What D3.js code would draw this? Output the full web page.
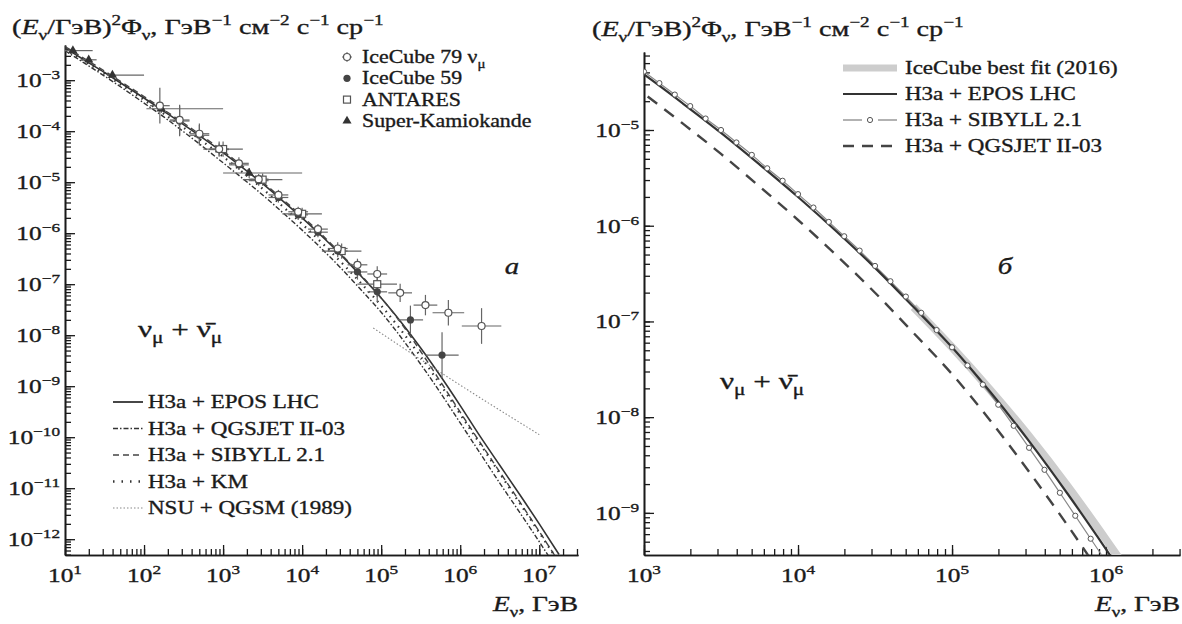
<!DOCTYPE html>
<html lang="ru">
<head>
<meta charset="UTF-8">
<title>Atmospheric neutrino flux</title>
<script src="https://d3js.org/d3.v7.min.js"></script>
<style>
  body { margin: 0; background: #fff; }
  svg { display: block; font-family: "Liberation Serif", "Times New Roman", serif; }
  svg text { stroke: #1a1a1a; stroke-width: 0.35px; }
</style>
</head>
<body>
<svg id="chart" width="1182" height="624"></svg>
<script>
// all values are exponents: log10(E / GeV) and log10(E^2 Phi)
const gridE = [1, 1.25, 1.5, 1.75, 2, 2.25, 2.5, 2.75, 3, 3.25, 3.5, 3.75, 4, 4.25, 4.5, 4.75, 5, 5.25, 5.5, 5.75, 6, 6.25, 6.5, 6.75, 7, 7.25];
const eposF = [-2.37, -2.61, -2.85, -3.10, -3.35, -3.61, -3.87, -4.14, -4.42, -4.72, -5.03, -5.36, -5.70, -6.06, -6.44, -6.85, -7.27, -7.74, -8.25, -8.80, -9.38, -9.98, -10.55, -11.12, -11.70, -12.30];
const qgsjetF = [-2.42, -2.67, -2.92, -3.18, -3.45, -3.72, -4.01, -4.31, -4.62, -4.93, -5.25, -5.59, -5.94, -6.31, -6.70, -7.12, -7.55, -8.04, -8.57, -9.13, -9.72, -10.31, -10.90, -11.47, -12.05, -12.65];
const sibyllF = [-2.34, -2.58, -2.82, -3.07, -3.32, -3.58, -3.84, -4.11, -4.39, -4.69, -5.00, -5.33, -5.67, -6.03, -6.42, -6.83, -7.27, -7.76, -8.32, -8.91, -9.51, -10.10, -10.68, -11.26, -11.85, -12.45];
const kmF = [-2.39, -2.63, -2.88, -3.13, -3.39, -3.66, -3.93, -4.21, -4.50, -4.81, -5.13, -5.47, -5.82, -6.19, -6.58, -6.99, -7.42, -7.90, -8.42, -8.97, -9.55, -10.13, -10.71, -11.29, -11.87, -12.46];
const nsuE = [4.9, 5.9, 7.0];
const nsuF = [-7.86, -8.88, -9.95];

// panel b: SIBYLL with markers, IceCube fit band
const sibMarkE = [3.0, 3.1, 3.2, 3.3, 3.4, 3.5, 3.6, 3.7, 3.8, 3.9, 4.0, 4.1, 4.2, 4.3, 4.4, 4.5, 4.6, 4.7, 4.8, 4.9, 5.0, 5.1, 5.2, 5.3, 5.4, 5.5, 5.6, 5.7, 5.8, 5.9, 6.0];
const sibMarkF = [-4.39, -4.51, -4.63, -4.75, -4.88, -5.00, -5.13, -5.26, -5.40, -5.53, -5.67, -5.81, -5.96, -6.11, -6.26, -6.42, -6.58, -6.74, -6.91, -7.09, -7.27, -7.46, -7.66, -7.87, -8.09, -8.32, -8.55, -8.79, -9.03, -9.27, -9.51];
const fitE = [4.75, 5.0, 5.25, 5.5, 5.75, 6.0, 6.25];
const fitF = [-6.85, -7.27, -7.72, -8.20, -8.72, -9.28, -9.86];

// measurements (panel a)
const ic79E = [2.2, 2.45, 2.7, 2.95, 3.2, 3.45, 3.7, 3.95, 4.2, 4.45, 4.7, 4.95, 5.24, 5.56, 5.85, 6.27];
const ic79F = [-3.50, -3.78, -4.05, -4.35, -4.63, -4.94, -5.25, -5.58, -5.92, -6.30, -6.62, -6.80, -7.17, -7.41, -7.56, -7.82];
const ic79Err = [0.35, 0.3, 0.2, 0.15, 0.12, 0.1, 0.1, 0.1, 0.1, 0.12, 0.12, 0.15, 0.18, 0.2, 0.25, 0.35];
const ic79Bin = [0.125, 0.125, 0.125, 0.125, 0.125, 0.125, 0.125, 0.125, 0.125, 0.125, 0.125, 0.125, 0.15, 0.15, 0.2, 0.25];
const ic59E = [2.45, 2.7, 2.95, 3.2, 3.45, 3.7, 3.95, 4.2, 4.45, 4.7, 4.95, 5.37, 5.77];
const ic59F = [-3.80, -4.08, -4.36, -4.66, -4.97, -5.30, -5.64, -5.98, -6.35, -6.76, -7.15, -7.70, -8.39];
const ic59Err = [0.3, 0.2, 0.12, 0.1, 0.1, 0.1, 0.1, 0.1, 0.12, 0.15, 0.2, 0.28, 0.45];
const ic59Bin = [0.125, 0.125, 0.125, 0.125, 0.125, 0.125, 0.125, 0.125, 0.125, 0.125, 0.125, 0.16, 0.21];
const antE = [3.0, 3.5, 4.0, 4.5, 4.95];
const antF = [-4.35, -4.95, -5.62, -6.35, -7.0];
const antErr = [0.15, 0.12, 0.12, 0.15, 0.25];
const skE = [1.1, 1.3, 1.6, 2.22, 3.33];
const skF = [-2.42, -2.60, -2.90, -3.56, -4.82];
const skElo = [1.0, 1.2, 1.53, 2.03, 3.0];
const skEhi = [1.35, 1.4, 2.0, 3.0, 4.0];
const skErr = [0.04, 0.05, 0.06, 0.08, 0.1];

const legendA1 = ["IceCube 79 ν", "IceCube 59", "ANTARES", "Super-Kamiokande"];
const legendA2 = ["H3a + EPOS LHC", "H3a + QGSJET II-03", "H3a + SIBYLL 2.1", "H3a + KM", "NSU + QGSM (1989)"];
const legendB = ["IceCube best fit (2016)", "H3a + EPOS LHC", "H3a + SIBYLL 2.1", "H3a + QGSJET II-03"];

const svg = d3.select("#chart");
const INK = "#1a1a1a";

// text with sub/superscripts, stretched horizontally like the scan
function rich(g, x, y, parts, size, anchor, sx) {
    const t = g.append("text")
        .attr("transform", `translate(${x},${y}) scale(${sx},1)`)
        .attr("font-size", size)
        .attr("text-anchor", anchor || "start")
        .attr("fill", INK);
    let shift = 0;
    parts.forEach(p => {
        const s = p.sup ? -0.42 * size : p.sub ? 0.26 * size : 0;
        const ts = t.append("tspan").attr("dy", s - shift).text(p.t);
        if (p.sup || p.sub) ts.attr("font-size", size * 0.68);
        if (p.it) ts.attr("font-style", "italic");
        shift = s;
    });
    return t;
}

const titleParts = [
    {t: "("}, {t: "E", it: true}, {t: "ν", sub: true}, {t: "/ГэВ)"}, {t: "2", sup: true},
    {t: "Φ"}, {t: "ν", sub: true}, {t: ", ГэВ"}, {t: "−1", sup: true}, {t: " см"}, {t: "−2", sup: true},
    {t: " с"}, {t: "−1", sup: true}, {t: " ср"}, {t: "−1", sup: true}
];
const axisParts = [{t: "E", it: true}, {t: "ν", sub: true}, {t: ", ГэВ"}];
const nuParts = [{t: "ν"}, {t: "μ", sub: true}, {t: " + "}, {t: "ν\u0304"}, {t: "μ", sub: true}];

function panel(cfg) {
    const g = svg.append("g");
    const x = d3.scaleLog().domain([10 ** cfg.eMin, 10 ** cfg.eMax]).range([cfg.left, cfg.right]);
    const y = d3.scaleLog().domain([10 ** cfg.fMin, 10 ** cfg.fMax]).range([cfg.bottom, cfg.top]);

    const minor = (lo, hi) => d3.range(Math.floor(lo), Math.ceil(hi))
        .flatMap(k => d3.range(1, 10).map(m => m * 10 ** k))
        .filter(v => v >= 10 ** lo * 0.999 && v <= 10 ** hi * 1.001);
    const major = (lo, hi) => d3.range(Math.ceil(lo - 1e-9), Math.floor(hi + 1e-9) + 1);

    const styleAxis = sel => {
        sel.selectAll("line").attr("stroke", INK).attr("stroke-width", 1.3);
        sel.select(".domain").attr("stroke", INK).attr("stroke-width", 1.6);
    };
    g.append("g").attr("transform", `translate(0,${cfg.bottom})`)
        .call(d3.axisBottom(x).tickValues(minor(cfg.eMin, cfg.eMax)).tickSize(-6).tickSizeOuter(0).tickFormat(""))
        .call(styleAxis);
    g.append("g").attr("transform", `translate(0,${cfg.bottom})`)
        .call(d3.axisBottom(x).tickValues(major(cfg.eMin, cfg.eMax).map(k => 10 ** k)).tickSize(-10).tickSizeOuter(0).tickFormat(""))
        .call(styleAxis);
    g.append("g").attr("transform", `translate(${cfg.left},0)`)
        .call(d3.axisLeft(y).tickValues(minor(cfg.fMin, cfg.fMax)).tickSize(-6).tickSizeOuter(0).tickFormat(""))
        .call(styleAxis);
    g.append("g").attr("transform", `translate(${cfg.left},0)`)
        .call(d3.axisLeft(y).tickValues(major(cfg.fMin, cfg.fMax).map(k => 10 ** k)).tickSize(-10).tickSizeOuter(0).tickFormat(""))
        .call(styleAxis);

    major(cfg.eMin, cfg.eMax).forEach(k => {
        rich(g, x(10 ** k), 582, [{t: "10"}, {t: String(k), sup: true}], 19.5, "middle", 1.3);
    });
    major(cfg.fMin, cfg.fMax).forEach(k => {
        rich(g, cfg.left - 5, y(10 ** k) + 7, [{t: "10"}, {t: "−" + (-k), sup: true}], 19.5, "end", 1.3);
    });

    rich(g, cfg.titleX, cfg.titleY, titleParts, 22, "start", 1.28);
    rich(g, cfg.right, 611, axisParts, 22, "end", 1.25);

    const clipId = "clip" + cfg.id;
    svg.append("clipPath").attr("id", clipId).append("rect")
        .attr("x", cfg.left).attr("y", cfg.top)
        .attr("width", cfg.right - cfg.left).attr("height", cfg.bottom - cfg.top);
    const plot = g.append("g").attr("clip-path", `url(#${clipId})`);
    const line = d3.line().x(d => x(10 ** d[0])).y(d => y(10 ** d[1])).curve(d3.curveMonotoneX);
    return {g, plot, x, y, line};
}

// ---------- panel a ----------
const A = panel({id: "a", left: 65, right: 578, top: 45, bottom: 555,
    eMin: 1, eMax: 7.49, fMin: -12.31, fMax: -2.31, titleX: 12, titleY: 34});

const curveA = [
    {f: eposF, dash: null, w: 1.6, c: "#333"},
    {f: qgsjetF, dash: "5,2,1.5,2", w: 1.4, c: "#333"},
    {f: sibyllF, dash: "6,4", w: 1.4, c: "#444"},
    {f: kmF, dash: "1.5,5", w: 2.2, c: "#333"}
];
curveA.forEach(cv => {
    A.plot.append("path").datum(gridE.map((e, i) => [e, cv.f[i]]))
        .attr("d", A.line).attr("fill", "none").attr("stroke", cv.c)
        .attr("stroke-width", cv.w).attr("stroke-dasharray", cv.dash);
});
A.plot.append("path").datum(nsuE.map((e, i) => [e, nsuF[i]]))
    .attr("d", A.line).attr("fill", "none").attr("stroke", "#888")
    .attr("stroke-width", 1.1).attr("stroke-dasharray", "1.5,2");

function errBars(E, F, lo, hi, up, dn) {
    const gg = A.plot.append("g").attr("stroke", "#666").attr("stroke-width", 1.2);
    E.forEach((e, i) => {
        gg.append("line").attr("x1", A.x(10 ** lo[i])).attr("x2", A.x(10 ** hi[i]))
            .attr("y1", A.y(10 ** F[i])).attr("y2", A.y(10 ** F[i]));
        gg.append("line").attr("x1", A.x(10 ** e)).attr("x2", A.x(10 ** e))
            .attr("y1", A.y(10 ** (F[i] - dn[i]))).attr("y2", A.y(10 ** (F[i] + up[i])));
    });
}
errBars(skE, skF, skElo, skEhi, skErr, skErr);
errBars(antE, antF, antE.map(e => e - 0.25), antE.map(e => e + 0.25), antErr, antErr);
errBars(ic59E, ic59F, ic59E.map((e, i) => e - ic59Bin[i]), ic59E.map((e, i) => e + ic59Bin[i]), ic59Err, ic59Err);
errBars(ic79E, ic79F, ic79E.map((e, i) => e - ic79Bin[i]), ic79E.map((e, i) => e + ic79Bin[i]), ic79Err, ic79Err);

const sym = {
    ic79: (sel) => sel.append("circle").attr("r", 3.5).attr("fill", "#fff").attr("stroke", "#555").attr("stroke-width", 1.2),
    ic59: (sel) => sel.append("circle").attr("r", 3.6).attr("fill", "#444"),
    ant: (sel) => sel.append("rect").attr("x", -3.5).attr("y", -3.5).attr("width", 7).attr("height", 7)
        .attr("fill", "#fff").attr("stroke", "#555").attr("stroke-width", 1.2),
    sk: (sel) => sel.append("path").attr("d", d3.symbol(d3.symbolTriangle, 36)()).attr("fill", "#333")
};
function markers(E, F, kind) {
    E.forEach((e, i) => {
        A.plot.append("g").attr("transform", `translate(${A.x(10 ** e)},${A.y(10 ** F[i])})`).call(sym[kind]);
    });
}
markers(skE, skF, "sk");
markers(antE, antF, "ant");
markers(ic59E, ic59F, "ic59");
markers(ic79E, ic79F, "ic79");

// data legend
const kinds = ["ic79", "ic59", "ant", "sk"];
legendA1.forEach((s, i) => {
    const yy = 63 + i * 21.3;
    const m = A.g.append("g").attr("transform", `translate(347,${yy - 6})`);
    if (kinds[i] === "ic79") {
        m.append("line").attr("x1", -5).attr("x2", 5).attr("stroke", "#666").attr("stroke-width", 1);
        m.append("line").attr("y1", -5).attr("y2", 5).attr("stroke", "#666").attr("stroke-width", 1);
    }
    m.call(sym[kinds[i]]);
    const parts = i === 0 ? [{t: s}, {t: "μ", sub: true}] : [{t: s}];
    rich(A.g, 362, yy, parts, 19, "start", 1.15);
});

// model legend
const legLines = [
    {dash: null, w: 1.8, c: "#333"}, {dash: "5,2,1.5,2", w: 1.5, c: "#333"},
    {dash: "6,4", w: 1.4, c: "#444"}, {dash: "1.5,7", w: 2.4, c: "#333"}, {dash: "1.5,2", w: 1.1, c: "#888"}
];
legendA2.forEach((s, i) => {
    const yy = 408 + i * 26.5;
    A.g.append("line").attr("x1", 113).attr("x2", 143).attr("y1", yy - 6).attr("y2", yy - 6)
        .attr("stroke", legLines[i].c).attr("stroke-width", legLines[i].w)
        .attr("stroke-dasharray", legLines[i].dash);
    rich(A.g, 148, yy, [{t: s}], 19.5, "start", 1.18);
});
rich(A.g, 138, 337, nuParts, 24, "start", 1.3);
rich(A.g, 512, 274, [{t: "a", it: true}], 24, "middle", 1.2);

// ---------- panel b ----------
const B = panel({id: "b", left: 644, right: 1180, top: 52, bottom: 555,
    eMin: 3, eMax: 6.48, fMin: -9.44, fMax: -4.185, titleX: 592, titleY: 36});

B.plot.append("path").datum(fitE.map((e, i) => [e, fitF[i]]))
    .attr("d", B.line).attr("fill", "none").attr("stroke", "#cdcdcd").attr("stroke-width", 8);
B.plot.append("path").datum(gridE.map((e, i) => [e, qgsjetF[i]]))
    .attr("d", B.line).attr("fill", "none").attr("stroke", "#444")
    .attr("stroke-width", 2.4).attr("stroke-dasharray", "12,9");
B.plot.append("path").datum(sibMarkE.map((e, i) => [e, sibMarkF[i]]))
    .attr("d", B.line).attr("fill", "none").attr("stroke", "#888").attr("stroke-width", 1.2);
B.plot.append("path").datum(gridE.map((e, i) => [e, eposF[i]]))
    .attr("d", B.line).attr("fill", "none").attr("stroke", "#333").attr("stroke-width", 2.2);
B.plot.selectAll("circle.sib").data(sibMarkE).join("circle").attr("class", "sib")
    .attr("cx", e => B.x(10 ** e)).attr("cy", (e, i) => B.y(10 ** sibMarkF[i]))
    .attr("r", 2.6).attr("fill", "#fff").attr("stroke", "#555").attr("stroke-width", 1);

legendB.forEach((s, i) => {
    const yy = 74 + i * 26;
    const ly = yy - 6;
    if (i === 0) {
        B.g.append("line").attr("x1", 843).attr("x2", 897).attr("y1", ly).attr("y2", ly)
            .attr("stroke", "#cdcdcd").attr("stroke-width", 7);
    } else if (i === 1) {
        B.g.append("line").attr("x1", 843).attr("x2", 897).attr("y1", ly).attr("y2", ly)
            .attr("stroke", "#333").attr("stroke-width", 2.2);
    } else if (i === 2) {
        B.g.append("line").attr("x1", 843).attr("x2", 862).attr("y1", ly).attr("y2", ly)
            .attr("stroke", "#888").attr("stroke-width", 1.3);
        B.g.append("line").attr("x1", 878).attr("x2", 897).attr("y1", ly).attr("y2", ly)
            .attr("stroke", "#888").attr("stroke-width", 1.3);
        B.g.append("circle").attr("cx", 870).attr("cy", ly).attr("r", 2.6)
            .attr("fill", "#fff").attr("stroke", "#555");
    } else {
        B.g.append("line").attr("x1", 843).attr("x2", 897).attr("y1", ly).attr("y2", ly)
            .attr("stroke", "#444").attr("stroke-width", 2.4).attr("stroke-dasharray", "11,8");
    }
    rich(B.g, 905, yy, [{t: s}], 19.5, "start", 1.18);
});
rich(B.g, 720, 389, nuParts, 24, "start", 1.3);
rich(B.g, 1005, 274, [{t: "б", it: true}], 24, "middle", 1.2);
</script>
</body>
</html>
